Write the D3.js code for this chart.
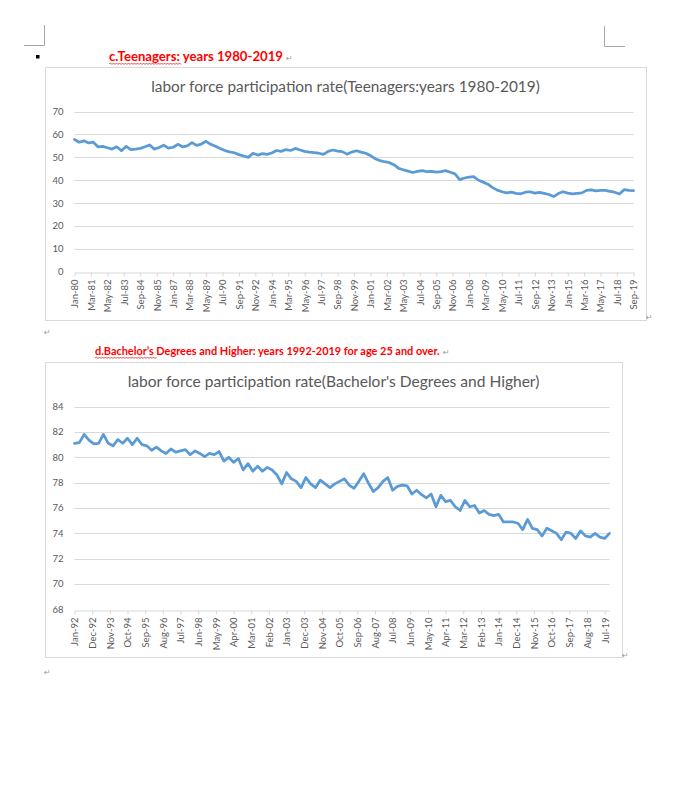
<!DOCTYPE html>
<html>
<head>
<meta charset="utf-8">
<script src="https://cdn.jsdelivr.net/npm/d3@7"></script>
<style>
	body { margin: 0; background: #fff; }
	svg { display: block; }
</style>
</head>
<body>
<svg id="page" width="673" height="795"></svg>
<script>
// Teenagers, Jan-80 .. Sep-19, one value every 4 months
const teenStep = 4;
const teenValues = [
	57.8, 56.6, 57.2, 56.3, 56.6, 54.6, 54.8, 54.2, 53.6, 54.6,
	52.9, 54.8, 53.4, 53.6, 53.9, 54.6, 55.4, 53.6, 54.3, 55.3,
	54.0, 54.4, 55.7, 54.6, 55.0, 56.4, 55.2, 55.8, 57.0, 55.7,
	54.8, 53.9, 53.0, 52.4, 52.0, 51.2, 50.6, 50.0, 51.8, 51.0,
	51.6, 51.3, 51.9, 53.0, 52.6, 53.4, 53.0, 53.9, 53.2, 52.6,
	52.3, 52.1, 51.8, 51.3, 52.6, 53.2, 52.7, 52.5, 51.4, 52.3,
	52.9, 52.3, 51.8, 50.8, 49.4, 48.6, 48.1, 47.7, 46.8, 45.2,
	44.6, 44.0, 43.4, 43.9, 44.2, 43.8, 43.9, 43.6, 43.8, 44.2,
	43.5, 42.8, 40.3, 41.0, 41.4, 41.6, 40.0, 39.2, 38.3, 36.8,
	35.7, 35.0, 34.5, 34.8, 34.3, 34.1, 34.8, 35.0, 34.4, 34.7,
	34.3, 33.8, 32.9, 34.2, 35.0, 34.4, 34.1, 34.3, 34.5, 35.6,
	35.8, 35.4, 35.6, 35.6, 35.2, 34.8, 34.0, 35.9, 35.6, 35.5
];
const teenTickStep = 14;
const teenTickLabels = ["Jan-80", "Mar-81", "May-82", "Jul-83", "Sep-84", "Nov-85", "Jan-87",
	"Mar-88", "May-89", "Jul-90", "Sep-91", "Nov-92", "Jan-94", "Mar-95", "May-96", "Jul-97",
	"Sep-98", "Nov-99", "Jan-01", "Mar-02", "May-03", "Jul-04", "Sep-05", "Nov-06", "Jan-08",
	"Mar-09", "May-10", "Jul-11", "Sep-12", "Nov-13", "Jan-15", "Mar-16", "May-17", "Jul-18", "Sep-19"];
const teenYTicks = [0, 10, 20, 30, 40, 50, 60, 70];

// Bachelor's degree and higher, Jan-92 .. Oct-19, one value every 3 months
const bachStep = 3;
const bachValues = [
	81.1, 81.15, 81.8, 81.35, 81.05, 81.1, 81.8, 81.1, 80.9, 81.4,
	81.1, 81.5, 81.0, 81.5, 81.0, 80.9, 80.55, 80.8, 80.5, 80.3,
	80.65, 80.4, 80.5, 80.6, 80.2, 80.5, 80.3, 80.05, 80.3, 80.2,
	80.45, 79.7, 80.0, 79.6, 79.9, 79.0, 79.5, 78.9, 79.3, 78.9,
	79.2, 79.0, 78.6, 77.9, 78.8, 78.3, 78.1, 77.6, 78.4, 77.9,
	77.6, 78.2, 77.9, 77.6, 77.9, 78.1, 78.3, 77.8, 77.55, 78.1,
	78.7, 77.95, 77.3, 77.6, 78.1, 78.4, 77.4, 77.7, 77.8, 77.75,
	77.1, 77.4, 77.05, 76.8, 77.1, 76.1, 77.0, 76.5, 76.6, 76.1,
	75.8, 76.6, 76.1, 76.2, 75.6, 75.8, 75.5, 75.4, 75.5, 74.9,
	74.9, 74.9, 74.8, 74.3, 75.1, 74.4, 74.3, 73.8, 74.4, 74.2,
	74.0, 73.5, 74.1, 74.0, 73.6, 74.2, 73.8, 73.7, 74.0, 73.7,
	73.6, 74.0
];
const bachTickStep = 11;
const bachTickLabels = ["Jan-92", "Dec-92", "Nov-93", "Oct-94", "Sep-95", "Aug-96", "Jul-97",
	"Jun-98", "May-99", "Apr-00", "Mar-01", "Feb-02", "Jan-03", "Dec-03", "Nov-04", "Oct-05",
	"Sep-06", "Aug-07", "Jul-08", "Jun-09", "May-10", "Apr-11", "Mar-12", "Feb-13", "Jan-14",
	"Dec-14", "Nov-15", "Oct-16", "Sep-17", "Aug-18", "Jul-19"];
const bachYTicks = [68, 70, 72, 74, 76, 78, 80, 82, 84];

const FONT = "Lato, 'Open Sans', sans-serif";
const GRID = "#d9d9d9";
const TEXT = "#595959";

let svg = d3.select("#page");

// scale a text's font so it covers the given width
function fitText(sel, width) {
	let size = parseFloat(sel.attr("font-size"));
	let len = sel.node().getComputedTextLength();
	sel.attr("font-size", size * width / len);
}

function heading(x, y, width, text, wavyEnd) {
	let t = svg.append("text")
		.attr("x", x)
		.attr("y", y)
		.attr("font-family", FONT)
		.attr("font-weight", "bold")
		.attr("font-size", 12)
		.attr("fill", "#ff0000")
		.text(text);
	fitText(t, width);

	// spell-check squiggle
	let p = d3.path();
	p.moveTo(x, y + 3);
	for (let k = x, up = true; k < wavyEnd; k += 1.5, up = !up) {
		p.lineTo(k + 1.5, y + (up ? 2 : 3.5));
	}
	svg.append("path")
		.attr("d", p.toString())
		.attr("fill", "none")
		.attr("stroke", "#e0201a")
		.attr("stroke-width", 0.8);
}

function returnMark(x, y) {
	svg.append("text")
		.attr("x", x)
		.attr("y", y)
		.attr("font-family", "DejaVu Sans, sans-serif")
		.attr("font-size", 8)
		.attr("fill", "#9a9a9a")
		.text("\u21B5");
}

function drawChart(cfg) {
	svg.append("rect")
		.attr("x", cfg.box[0] + 0.5)
		.attr("y", cfg.box[1] + 0.5)
		.attr("width", cfg.box[2] - cfg.box[0])
		.attr("height", cfg.box[3] - cfg.box[1])
		.attr("fill", "#fff")
		.attr("stroke", GRID);

	let title = svg.append("text")
		.attr("x", (cfg.box[0] + cfg.box[2]) / 2)
		.attr("y", cfg.box[1] + 25)
		.attr("text-anchor", "middle")
		.attr("font-family", FONT)
		.attr("font-size", 15)
		.attr("fill", TEXT)
		.text(cfg.title);
	fitText(title, cfg.titleWidth);

	let lastMonth = (cfg.values.length - 1) * cfg.step;
	let xScale = d3.scaleLinear()
		.domain([0, lastMonth])
		.range([cfg.plot.left, cfg.plot.right]);
	let yScale = d3.scaleLinear()
		.domain([cfg.yTicks[0], cfg.yTicks[cfg.yTicks.length - 1]])
		.range([cfg.plot.bottom, cfg.plot.top]);

	// gridlines
	svg.append("g")
		.selectAll("line")
		.data(cfg.yTicks.slice(1))
		.join("line")
		.attr("x1", cfg.plot.left)
		.attr("x2", cfg.plot.right)
		.attr("y1", d => Math.round(yScale(d)) + 0.5)
		.attr("y2", d => Math.round(yScale(d)) + 0.5)
		.attr("stroke", GRID);

	// y labels
	svg.append("g")
		.selectAll("text")
		.data(cfg.yTicks)
		.join("text")
		.attr("x", cfg.plot.left - 11)
		.attr("y", d => yScale(d))
		.attr("dy", "0.35em")
		.attr("text-anchor", "end")
		.attr("font-family", FONT)
		.attr("font-size", 9.5)
		.attr("fill", TEXT)
		.text(d => d);

	// x axis
	let tickMonths = cfg.tickLabels.map((l, i) => i * cfg.tickStep);
	let xAxis = d3.axisBottom(xScale)
		.tickValues(tickMonths)
		.tickFormat((d, i) => cfg.tickLabels[i])
		.tickSize(4)
		.tickSizeOuter(0);
	let ax = svg.append("g")
		.attr("transform", "translate(0," + (Math.round(yScale(cfg.yTicks[0])) + 0.5) + ")")
		.call(xAxis);
	ax.select(".domain").attr("stroke", GRID);
	ax.selectAll(".tick line").attr("stroke", GRID);
	ax.selectAll(".tick text")
		.attr("transform", "rotate(-90)")
		.attr("x", -7)
		.attr("y", 0)
		.attr("dy", "0.35em")
		.attr("text-anchor", "end")
		.attr("font-family", FONT)
		.attr("font-size", 9.5)
		.attr("fill", TEXT);

	let lineGen = d3.line()
		.x((d, i) => xScale(i * cfg.step))
		.y(d => yScale(d));

	svg.append("path")
		.attr("d", lineGen(cfg.values))
		.attr("fill", "none")
		.attr("stroke", "#5b9bd5")
		.attr("stroke-width", 2.75)
		.attr("stroke-linejoin", "round")
		.attr("stroke-linecap", "round");
}

// page furniture: crop marks and bullet
svg.append("path")
	.attr("d", "M44.5,25V45.5H24M604.5,26V46.5H625")
	.attr("fill", "none")
	.attr("stroke", "#a6a6a6");
svg.append("rect")
	.attr("x", 36)
	.attr("y", 55)
	.attr("width", 3.5)
	.attr("height", 3.5)
	.attr("fill", "#000");

heading(109, 61, 174, "c.Teenagers: years 1980-2019", 181);
returnMark(286, 61);

drawChart({
	box: [45, 67, 646, 320],
	plot: {left: 74.5, right: 633.5, top: 111.5, bottom: 272},
	title: "labor force participation rate(Teenagers:years 1980-2019)",
	titleWidth: 389,
	values: teenValues,
	step: teenStep,
	tickStep: teenTickStep,
	tickLabels: teenTickLabels,
	yTicks: teenYTicks
});
returnMark(646, 320);
returnMark(44, 335);

heading(95, 355, 345, "d.Bachelor\u2019s Degrees and Higher:  years 1992-2019 for age 25 and over.", 156);
returnMark(443, 355);

drawChart({
	box: [45, 362, 622, 657],
	plot: {left: 74.5, right: 609.5, top: 406.5, bottom: 609.5},
	title: "labor force participation rate(Bachelor's Degrees and Higher)",
	titleWidth: 412,
	values: bachValues,
	step: bachStep,
	tickStep: bachTickStep,
	tickLabels: bachTickLabels,
	yTicks: bachYTicks
});
returnMark(622, 658);
returnMark(44, 675);
</script>
</body>
</html>
